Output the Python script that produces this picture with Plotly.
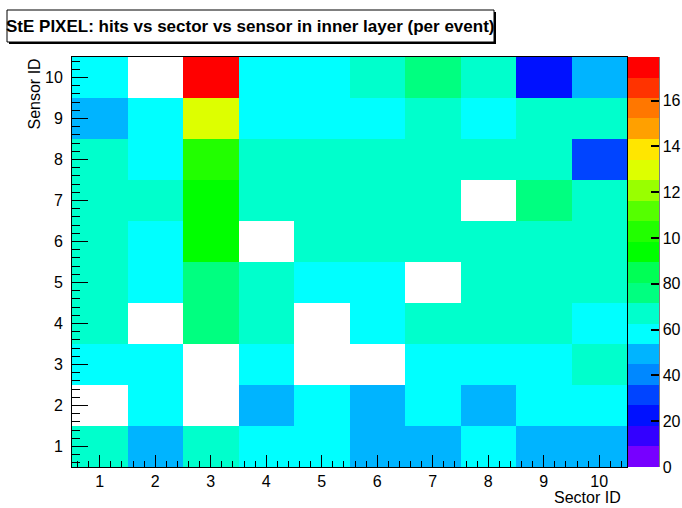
import plotly.graph_objects as go

# ---------------- data ----------------
sectors = [1, 2, 3, 4, 5, 6, 7, 8, 9, 10]
sensors = [1, 2, 3, 4, 5, 6, 7, 8, 9, 10]

# hits per event, one list per sensor (index = sector 1..10); None = empty bin
sensor1 = [67, 50, 67, 58, 58, 50, 50, 58, 50, 50]
sensor2 = [None, 58, None, 50, 58, 50, 58, 50, 58, 58]
sensor3 = [58, 58, None, 58, None, None, 58, 58, 58, 67]
sensor4 = [67, None, 76, 67, None, 58, 67, 67, 67, 58]
sensor5 = [67, 58, 76, 67, 58, 58, None, 67, 67, 67]
sensor6 = [67, 58, 94, None, 67, 67, 67, 67, 67, 67]
sensor7 = [67, 67, 94, 67, 67, 67, 67, None, 76, 67]
sensor8 = [67, 58, 103, 67, 67, 67, 67, 67, 67, 31]
sensor9 = [50, 58, 130, 58, 58, 58, 67, 58, 67, 67]
sensor10 = [58, None, 179, 58, 58, 67, 76, 67, 22, 50]

z_rows = [sensor1, sensor2, sensor3, sensor4, sensor5,
          sensor6, sensor7, sensor8, sensor9, sensor10]

z_max = 179
cbar_tickvals = [0, 20, 40, 60, 80, 100, 120, 140, 160]
cbar_ticktext = ["0", "20", "40", "60", "80", "10", "12", "14", "16"]

title_text = "StE PIXEL: hits vs sector vs sensor in inner layer (per event)"

# ---------------- style ----------------
palette = ["#7700FF", "#3300FF", "#0011FF", "#0044FF", "#0088FF",
           "#00B4FF", "#00FFFF", "#00FFCC", "#00FF80", "#00FF55",
           "#00FF00", "#22FF00", "#55FF00", "#99FF00", "#DDFF00",
           "#FFE600", "#FFA000", "#FF7700", "#FF3300", "#FF0000"]
n = len(palette)
colorscale = []
for k, c in enumerate(palette):
    colorscale.append([k / n, c])
    colorscale.append([(k + 1) / n, c])

W, H = 682, 508
L, R, T, B = 72, 627, 57, 467
FONT = "Liberation Sans, Arial, Helvetica, sans-serif"


def px(xp):
    return (xp - L) / (R - L)


def py(yp):
    return (B - yp) / (B - T)


fig = go.Figure(go.Heatmap(
    x=sectors, y=sensors, z=z_rows,
    zmin=0, zmax=z_max,
    colorscale=colorscale,
    xgap=0, ygap=0,
    hoverongaps=False,
    colorbar=dict(
        xref="container", x=628 / W, xanchor="left",
        yref="paper", y=0, yanchor="bottom", len=1, lenmode="fraction",
        thickness=31, thicknessmode="pixels",
        xpad=0, ypad=0, outlinewidth=0,
        tickmode="array", tickvals=cbar_tickvals, ticktext=cbar_ticktext,
        ticks="inside", ticklen=8, tickwidth=2, tickcolor="black",
        tickfont=dict(family=FONT, size=16, color="black"),
    ),
))

axis_common = dict(
    range=[0.5, 10.5], tickmode="linear", tick0=1, dtick=1,
    ticks="inside", tickwidth=1, tickcolor="black",
    showline=True, linecolor="black", linewidth=1, mirror=True,
    showgrid=False, zeroline=False,
    tickfont=dict(family=FONT, size=16, color="black"),
    minor=dict(dtick=0.2, tick0=0, ticks="inside", tickcolor="black",
               tickwidth=1, showgrid=False),
)

fig.update_xaxes(**axis_common, ticklen=12)
fig.update_xaxes(minor_ticklen=6)
fig.update_yaxes(**axis_common, ticklen=16)
fig.update_yaxes(minor_ticklen=8, ticklabelstandoff=5)

shapes = [
    # colour bar axis line
    dict(type="line", xref="paper", yref="paper",
         x0=px(659), x1=px(659), y0=0, y1=1,
         line=dict(color="black", width=1)),
    # title box shadow
    dict(type="rect", xref="paper", yref="paper",
         x0=px(9), x1=px(496), y0=py(44), y1=py(12),
         line=dict(width=0), fillcolor="black"),
    # title box
    dict(type="rect", xref="paper", yref="paper",
         x0=px(7), x1=px(494), y0=py(42), y1=py(10),
         line=dict(color="black", width=1), fillcolor="white"),
]

annotations = [
    dict(text="<b>" + title_text + "</b>", xref="paper", yref="paper",
         x=px(250), y=py(27), xanchor="center", yanchor="middle",
         showarrow=False, font=dict(family=FONT, size=17, color="black")),
    dict(text="Sector ID", xref="paper", yref="paper",
         x=px(623), y=py(497), xanchor="right", yanchor="middle",
         showarrow=False, font=dict(family=FONT, size=16, color="black")),
    dict(text="Sensor ID", xref="paper", yref="paper",
         x=px(34), y=py(57), xanchor="center", yanchor="top", textangle=-90,
         showarrow=False, font=dict(family=FONT, size=16, color="black")),
]

fig.update_layout(
    width=W, height=H,
    margin=dict(l=L, r=W - R, t=T, b=H - B, pad=0, autoexpand=False),
    paper_bgcolor="white", plot_bgcolor="white",
    font=dict(family=FONT, size=16, color="black"),
    shapes=shapes, annotations=annotations,
    showlegend=False,
)

fig.write_html("out.html",
               config={"displayModeBar": False},
               post_script="document.body.style.margin='0';")
